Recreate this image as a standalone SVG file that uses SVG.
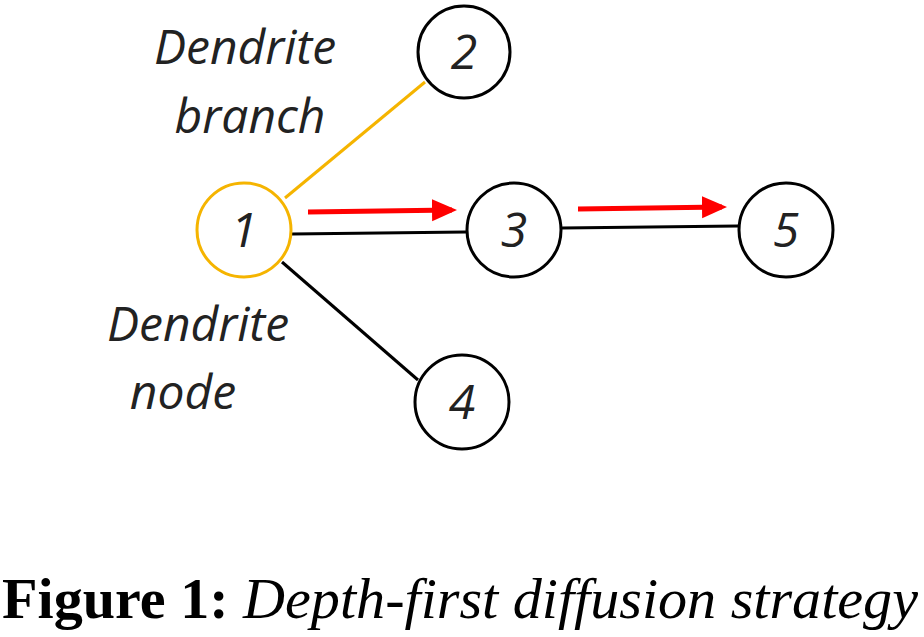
<svg xmlns="http://www.w3.org/2000/svg" width="924" height="637" viewBox="0 0 924 637">
<defs>
<style>
.n{fill:#fff;stroke:#000;stroke-width:3}
.t{font-family:"Open Sans","Liberation Sans",sans-serif;font-style:italic;font-size:48px;fill:#222}
.c{font-family:"Liberation Serif",serif;font-size:56px;fill:#000}
</style>
<marker id="a" markerWidth="5" markerHeight="5" refX="4" refY="2.5" orient="auto" markerUnits="strokeWidth"><path d="M0,0.3L5,2.5L0,4.7z" fill="#f00"/></marker>
</defs>
<rect width="924" height="637" fill="#fff"/>
<g id="connectors" stroke-width="3" fill="none">
<line x1="285" y1="198" x2="425" y2="82" stroke="#f5b400"/>
<line x1="292" y1="234" x2="466" y2="232" stroke="#000"/>
<line x1="562" y1="228" x2="738" y2="226" stroke="#000"/>
<line x1="282" y1="262" x2="418" y2="380" stroke="#000"/>
<line x1="308" y1="212" x2="452" y2="210" stroke="#f00" stroke-width="5" marker-end="url(#a)"/>
<line x1="578" y1="209" x2="722" y2="207" stroke="#f00" stroke-width="5" marker-end="url(#a)"/>
</g>
<g id="node1"><circle class="n" cx="244" cy="230" r="47" style="stroke:#f5b400"/><text class="t" x="244" y="247" text-anchor="middle">1</text></g>
<g id="node2"><circle class="n" cx="464" cy="52" r="46"/><text class="t" x="464" y="69" text-anchor="middle">2</text></g>
<g id="node3"><circle class="n" cx="514" cy="230" r="47"/><text class="t" x="514" y="247" text-anchor="middle">3</text></g>
<g id="node4"><circle class="n" cx="462" cy="402" r="47"/><text class="t" x="462" y="419" text-anchor="middle">4</text></g>
<g id="node5"><circle class="n" cx="786" cy="230" r="47"/><text class="t" x="786" y="247" text-anchor="middle">5</text></g>
<g id="labels">
<text class="t" x="245" y="64" text-anchor="middle">Dendrite</text>
<text class="t" x="250" y="133" text-anchor="middle">branch</text>
<text class="t" x="198" y="341" text-anchor="middle">Dendrite</text>
<text class="t" x="183" y="409" text-anchor="middle">node</text>
<text class="c" x="2" y="618" textLength="916" lengthAdjust="spacingAndGlyphs"><tspan font-weight="bold">Figure 1:</tspan> <tspan font-style="italic">Depth-first diffusion strategy</tspan></text>
</g>
</svg>
